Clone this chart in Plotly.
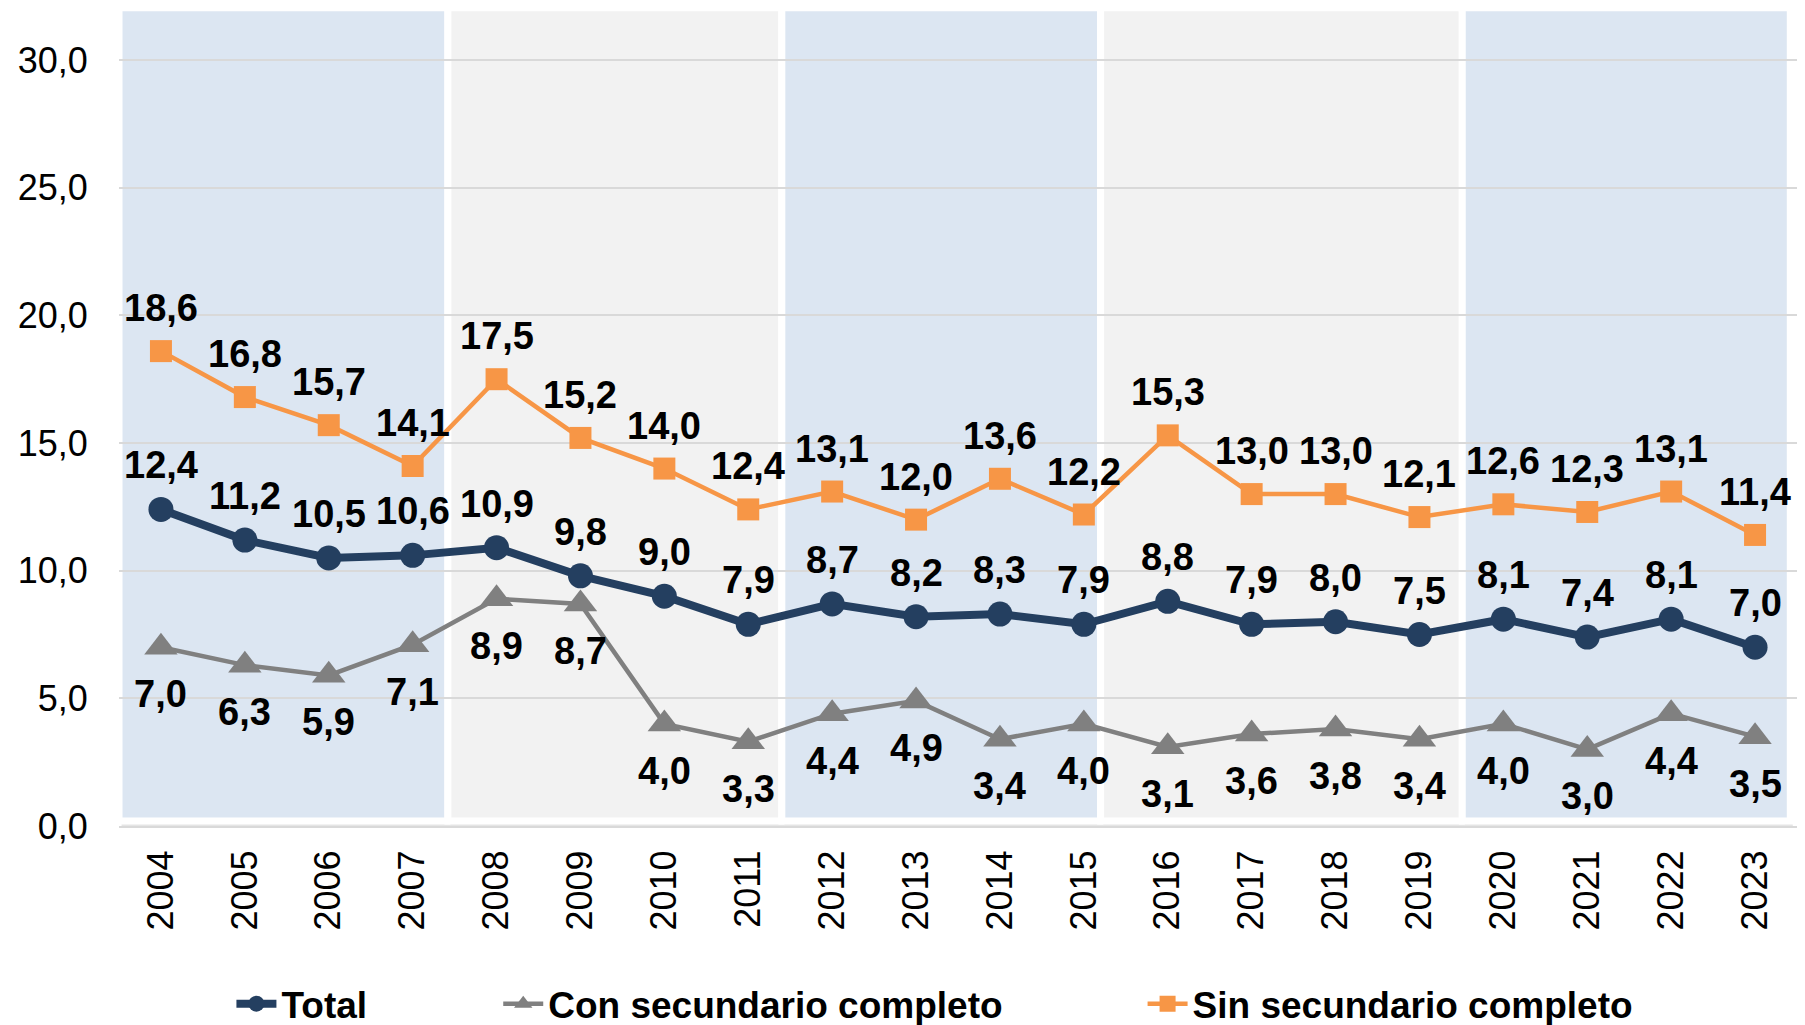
import plotly.graph_objects as go

years = [str(y) for y in range(2004, 2024)]
total = [12.4, 11.2, 10.5, 10.6, 10.9, 9.8, 9.0, 7.9, 8.7, 8.2, 8.3, 7.9, 8.8, 7.9, 8.0, 7.5, 8.1, 7.4, 8.1, 7.0]
con_sec = [7.0, 6.3, 5.9, 7.1, 8.9, 8.7, 4.0, 3.3, 4.4, 4.9, 3.4, 4.0, 3.1, 3.6, 3.8, 3.4, 4.0, 3.0, 4.4, 3.5]
sin_sec = [18.6, 16.8, 15.7, 14.1, 17.5, 15.2, 14.0, 12.4, 13.1, 12.0, 13.6, 12.2, 15.3, 13.0, 13.0, 12.1, 12.6, 12.3, 13.1, 11.4]
y_ticks = [0, 5, 10, 15, 20, 25, 30]

names = ["Total", "Con secundario completo", "Sin secundario completo"]
colors = ["#243F60", "#808080", "#F79646"]

# background panels (category-index edges), alternating colours
panel_edges = [-0.5, 3.42, 7.40, 11.20, 15.51, 19.42]
panel_fill = ["#DCE6F2", "#F2F2F2", "#DCE6F2", "#F2F2F2", "#DCE6F2"]

LABEL_FONT = "Liberation Sans, Arial, sans-serif"
TICK_FONT = "Liberation Sans, Arial, sans-serif"

fig = go.Figure()

xs = list(range(len(years)))

fig.add_trace(go.Scatter(
    x=xs, y=sin_sec, name=names[2], mode="lines+markers",
    line=dict(color=colors[2], width=4.5),
    marker=dict(symbol="square", size=22, color=colors[2]),
    legend="legend3"))
fig.add_trace(go.Scatter(
    x=xs, y=con_sec, name=names[1], mode="lines+markers",
    line=dict(color=colors[1], width=4.5),
    marker=dict(symbol="triangle-up", size=29, color=colors[1]),
    legend="legend2"))
fig.add_trace(go.Scatter(
    x=xs, y=total, name=names[0], mode="lines+markers",
    line=dict(color=colors[0], width=8),
    marker=dict(symbol="circle", size=25, color=colors[0]),
    legend="legend"))

def fmt(v):
    return f"{v:.1f}".replace(".", ",")

lab_font = dict(family=LABEL_FONT, size=38, color="#000000", weight="bold")
annotations = []
for i in xs:
    annotations.append(dict(x=i, y=sin_sec[i], text=fmt(sin_sec[i]), yshift=43,
                            showarrow=False, font=lab_font))
    annotations.append(dict(x=i, y=total[i], text=fmt(total[i]), yshift=44,
                            showarrow=False, font=lab_font))
    annotations.append(dict(x=i, y=con_sec[i], text=fmt(con_sec[i]), yshift=-47,
                            showarrow=False, font=lab_font))

shapes = []
for k in range(len(panel_fill)):
    x0, x1 = panel_edges[k], panel_edges[k + 1]
    shapes.append(dict(type="rect", xref="x", yref="y", x0=x0 + 0.03, x1=x1 + 0.03, y0=-0.05, y1=31.9,
                       fillcolor="rgba(0,0,0,0.10)", line=dict(width=0), layer="below"))
    shapes.append(dict(type="rect", xref="x", yref="y", x0=x0, x1=x1, y0=0.2, y1=32.05,
                       fillcolor=panel_fill[k], line=dict(color="#FFFFFF", width=7), layer="below"))

legend_common = dict(orientation="h", yanchor="middle", y=-0.218, xanchor="left",
                     font=dict(family=LABEL_FONT, size=37, color="#000000", weight="bold"),
                     bgcolor="rgba(0,0,0,0)", borderwidth=0, itemsizing="trace", itemwidth=40)

fig.update_layout(
    width=1805, height=1025,
    margin=dict(l=119, r=8, t=9, b=199, autoexpand=False),
    paper_bgcolor="#FFFFFF", plot_bgcolor="#FFFFFF",
    separators=",.",
    showlegend=True,
    legend=dict(legend_common, x=0.067),
    legend2=dict(legend_common, x=0.226),
    legend3=dict(legend_common, x=0.610),
    annotations=annotations,
    shapes=shapes,
    xaxis=dict(
        range=[-0.5, len(years) - 0.5],
        tickmode="array", tickvals=xs, ticktext=years, tickangle=-90,
        tickfont=dict(family=TICK_FONT, size=36, color="#000000"),
        ticks="outside", ticklen=8, tickcolor="rgba(0,0,0,0)",
        showgrid=False, zeroline=False,
        showline=True, linecolor="#D9D9D9", linewidth=2,
    ),
    yaxis=dict(
        range=[0, 32],
        tickmode="array", tickvals=y_ticks, tickformat=".1f",
        tickfont=dict(family=TICK_FONT, size=36, color="#000000"),
        ticks="outside", ticklen=23, tickcolor="rgba(0,0,0,0)",
        showgrid=True, gridcolor="#D9D9D9", gridwidth=2,
        zeroline=False, showline=False,
    ),
)

fig.write_html("out.html",
               config={"displayModeBar": False},
               post_script="document.body.style.margin='0';document.body.style.padding='0';document.body.style.overflow='hidden';")
